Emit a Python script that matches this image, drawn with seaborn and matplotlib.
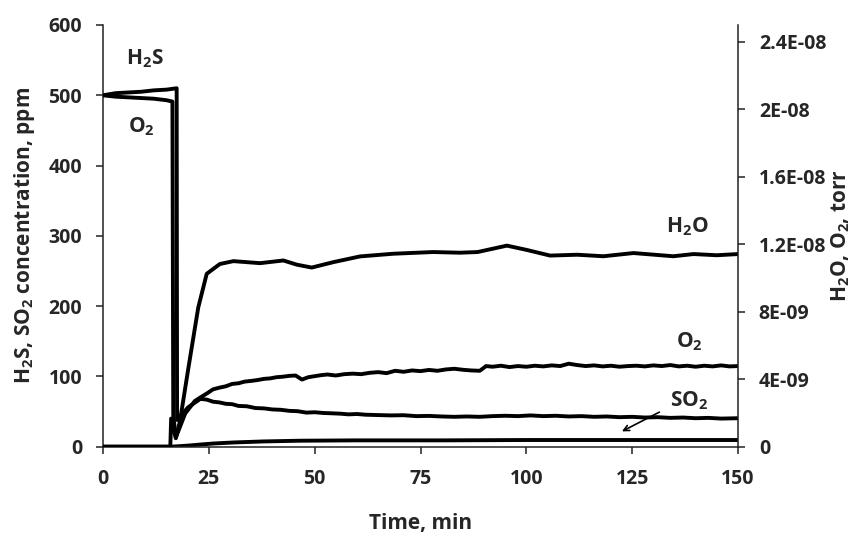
import numpy as np
import pandas as pd
import matplotlib
matplotlib.use('Agg')
import matplotlib.pyplot as plt
import seaborn as sns

# time axis (min) and series
t_h2s = [0, 3, 6, 9, 12, 15, 17.4, 17.5, 20.1, 23, 24.5, 26, 27.5, 29, 30.5, 32, 34, 36, 38, 40,
         42, 44, 46, 48, 50, 52, 54, 56, 58, 60, 62, 65, 68, 71, 74, 77, 80, 83, 86, 89,
         92, 95, 98, 101, 104, 107, 110, 113, 116, 119, 122, 125, 128, 131, 134, 137, 140, 143, 146, 150]
h2s_ppm = [500, 503, 504, 505, 507, 508, 510, 38, 56, 68, 67, 64, 63, 61, 60.5, 58, 57.5, 55, 54.5, 53,
           52.5, 51, 50.5, 48.5, 49, 48, 47.5, 47, 46, 46.5, 45.5, 45, 44.5, 44.8, 43.5, 43.8, 43, 42.5, 43, 42.5,
           43.5, 44, 43.5, 44.5, 43.5, 44, 43, 43.5, 42.5, 43, 42, 42.5, 41.5, 42, 41, 41.5, 40.5, 41, 40, 40.5]

t_so2 = [0, 16, 17.5, 20, 22.9, 26, 30.8, 38, 46.5, 60, 80, 100, 125, 150]
so2_ppm = [0, 0, 0.5, 1.5, 3, 4.5, 6, 7.5, 8.5, 9, 9, 9.5, 9.5, 9.5]

t_h2o = [0, 15.9, 16.1, 17.2, 18.2, 20.2, 22.5, 24.5, 27.6, 30.8, 37.1, 42.6, 45.8, 49.3, 54.4, 60.7,
         68.6, 78, 84.3, 88.5, 95.4, 100, 105.6, 112, 118.2, 125.3, 134.7, 139.5, 145, 150]
h2o_e9 = [0, 0, 1.67, 0.5, 1.54, 4.71, 8.25, 10.25, 10.83, 11.0, 10.88, 11.04, 10.79, 10.62, 10.94, 11.28,
          11.44, 11.54, 11.5, 11.54, 11.92, 11.67, 11.33, 11.38, 11.29, 11.48, 11.29, 11.42, 11.35, 11.42]

t_o2 = [0, 3, 6, 9, 12, 15, 16.4, 16.6, 17.2, 19.4, 21.7, 23, 24.5, 26, 27.5, 29, 30.5, 32, 33.5, 35,
        36.5, 38, 39.5, 41, 42.5, 44, 45.5, 47, 48.5, 50, 51.5, 53, 55, 57, 59, 61, 63, 65, 67, 69,
        71, 73, 75, 77, 79, 81, 83, 85, 87, 89, 90.5, 92, 94, 96, 98, 100, 102, 104, 106, 108,
        110, 112, 114, 116, 118, 120, 122, 124, 126, 128, 130, 132, 134, 136, 138, 140, 142, 144, 146, 148, 150]
o2_e9 = [20.83, 20.75, 20.71, 20.67, 20.63, 20.54, 20.46, 1.88, 0.54, 1.96, 2.71, 2.92, 3.15, 3.40, 3.50, 3.58, 3.72, 3.76, 3.86, 3.90,
         3.95, 4.02, 4.05, 4.12, 4.15, 4.20, 4.22, 3.98, 4.12, 4.18, 4.24, 4.28, 4.22, 4.30, 4.33, 4.30, 4.38, 4.42, 4.36, 4.50,
         4.44, 4.52, 4.48, 4.55, 4.50, 4.58, 4.62, 4.56, 4.52, 4.50, 4.78, 4.74, 4.80, 4.72, 4.78, 4.74, 4.80, 4.76, 4.82, 4.78,
         4.92, 4.84, 4.78, 4.82, 4.76, 4.80, 4.74, 4.78, 4.80, 4.76, 4.82, 4.78, 4.84, 4.76, 4.80, 4.74, 4.80, 4.76, 4.82, 4.76, 4.78]

x_ticks = [0, 25, 50, 75, 100, 125, 150]
left_ticks = [0, 100, 200, 300, 400, 500, 600]
right_ticks = [0, 4e-9, 8e-9, 1.2e-8, 1.6e-8, 2e-8, 2.4e-8]
right_labels = ['0', '4E-09', '8E-09', '1.2E-08', '1.6E-08', '2E-08', '2.4E-08']

sns.set_style('ticks')
plt.rcParams['font.family'] = ['Open Sans', 'DejaVu Sans']
plt.rcParams['font.weight'] = 'bold'
plt.rcParams['mathtext.fontset'] = 'custom'
plt.rcParams['mathtext.rm'] = 'Open Sans:bold'
plt.rcParams['mathtext.bf'] = 'Open Sans:bold'
plt.rcParams['mathtext.default'] = 'bf'

df_h2s = pd.DataFrame({'t': t_h2s, 'v': h2s_ppm})
df_so2 = pd.DataFrame({'t': t_so2, 'v': so2_ppm})
df_h2o = pd.DataFrame({'t': t_h2o, 'v': np.array(h2o_e9) * 1e-9})
df_o2 = pd.DataFrame({'t': t_o2, 'v': np.array(o2_e9) * 1e-9})

fig = plt.figure(figsize=(8.54, 5.34), dpi=100)
ax = fig.add_axes([0.1206, 0.1635, 0.7436, 0.7897])
ax2 = ax.twinx()

lw = 2.8
sns.lineplot(data=df_h2s, x='t', y='v', ax=ax, color='black', lw=lw, legend=False)
sns.lineplot(data=df_so2, x='t', y='v', ax=ax, color='black', lw=lw, legend=False)
sns.lineplot(data=df_h2o, x='t', y='v', ax=ax2, color='black', lw=lw, legend=False)
sns.lineplot(data=df_o2, x='t', y='v', ax=ax2, color='black', lw=lw, legend=False)

ax.set_xlim(0, 150)
ax.set_ylim(0, 600)
ax2.set_ylim(0, 2.5e-8)
ax.set_xticks(x_ticks)
ax.set_yticks(left_ticks)
ax2.set_yticks(right_ticks)
ax2.set_yticklabels(right_labels)

for a in (ax, ax2):
    a.spines['top'].set_visible(False)
    for s in a.spines.values():
        s.set_linewidth(1.1)
        s.set_color('#222222')
    a.tick_params(direction='out', length=5, width=1.1, labelsize=14, color='#222222')
    a.tick_params(axis='y', pad=10)
ax.tick_params(axis='x', pad=11)
ax2.spines['left'].set_visible(False)
ax2.spines['bottom'].set_visible(False)
ax.spines['right'].set_visible(False)

ax.set_xlabel('Time, min', fontsize=15, fontweight='bold', labelpad=17)
ax.set_ylabel('H$_2$S, SO$_2$ concentration, ppm', fontsize=15, fontweight='bold', labelpad=8)
ax2.set_ylabel('H$_2$O, O$_2$, torr', fontsize=15, fontweight='bold', labelpad=2)

ax.text(10, 552, 'H$_2$S', fontsize=15, ha='center', va='center')
ax.text(9, 455, 'O$_2$', fontsize=15, ha='center', va='center')
ax.text(138, 313, 'H$_2$O', fontsize=15, ha='center', va='center')
ax.text(138.4, 149, 'O$_2$', fontsize=15, ha='center', va='center')
ax.text(138.4, 66, 'SO$_2$', fontsize=15, ha='center', va='center')
ax.annotate('', xy=(122, 20), xytext=(132, 51),
            arrowprops=dict(arrowstyle='->', color='black', lw=1.2))

fig.savefig('out.png', dpi=100)
